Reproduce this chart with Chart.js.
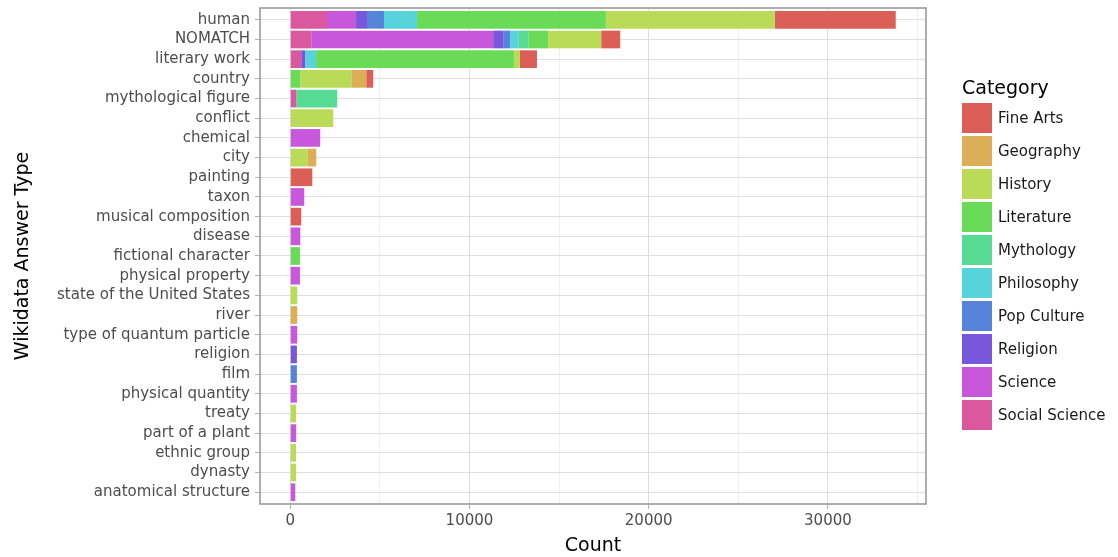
<!DOCTYPE html>
<html>
<head>
<meta charset="utf-8">
<script src="https://cdn.jsdelivr.net/npm/chart.js@4/dist/chart.umd.min.js"></script>
<style>
  html, body { margin: 0; padding: 0; background: #ffffff; }
  #wrap { width: 1118px; height: 557px; position: relative; }
</style>
</head>
<body>
<div id="wrap"><canvas id="c" width="1118" height="557"></canvas></div>
<script>
// ---- Data ----
const categories = [
  "human", "NOMATCH", "literary work", "country", "mythological figure",
  "conflict", "chemical", "city", "painting", "taxon",
  "musical composition", "disease", "fictional character", "physical property",
  "state of the United States", "river", "type of quantum particle", "religion",
  "film", "physical quantity", "treaty", "part of a plant", "ethnic group",
  "dynasty", "anatomical structure"
];

// series values, one per category (0 = no segment)
const socialScience = [2050, 1170, 610, 0, 335, 0, 0, 0, 0, 0, 0, 0, 0, 0, 0, 0, 0, 0, 0, 0, 0, 0, 0, 0, 0];
const science       = [1620, 10150, 0, 0, 0, 0, 1670, 0, 0, 780, 0, 560, 0, 540, 0, 0, 390, 0, 0, 370, 0, 330, 0, 0, 280];
const religion      = [610, 560, 220, 0, 0, 0, 0, 0, 0, 0, 0, 0, 0, 0, 0, 0, 0, 370, 0, 0, 0, 0, 0, 0, 0];
const popCulture    = [950, 390, 0, 0, 0, 0, 0, 0, 0, 0, 0, 0, 0, 0, 0, 0, 0, 0, 370, 0, 0, 0, 0, 0, 0];
const philosophy    = [1840, 450, 610, 0, 0, 0, 0, 0, 0, 0, 0, 0, 0, 0, 0, 0, 0, 0, 0, 0, 0, 0, 0, 0, 0];
const mythology     = [0, 560, 0, 0, 2285, 0, 0, 0, 0, 0, 0, 0, 0, 0, 0, 0, 0, 0, 0, 0, 0, 0, 0, 0, 0];
const literature    = [10540, 1115, 11040, 560, 0, 0, 0, 0, 0, 0, 0, 0, 540, 0, 0, 0, 0, 0, 0, 0, 0, 0, 0, 0, 0];
const history       = [9425, 2955, 335, 2845, 0, 2400, 0, 950, 0, 0, 0, 0, 0, 0, 390, 0, 0, 0, 0, 0, 330, 0, 320, 320, 0];
const geography     = [0, 0, 0, 835, 0, 0, 0, 500, 0, 0, 0, 0, 0, 0, 0, 390, 0, 0, 0, 0, 0, 0, 0, 0, 0];
const fineArts      = [6750, 1060, 950, 390, 0, 0, 0, 0, 1230, 0, 610, 0, 0, 0, 0, 0, 0, 0, 0, 0, 0, 0, 0, 0, 0];

const xTicks = [0, 5000, 10000, 15000, 20000, 25000, 30000, 35000];

// ---- Series definitions (stack order left -> right) ----
const series = [
  { name: "Social Science", values: socialScience, color: "#DB579E" },
  { name: "Science",        values: science,       color: "#C957DB" },
  { name: "Religion",       values: religion,      color: "#7957DB" },
  { name: "Pop Culture",    values: popCulture,    color: "#5784DB" },
  { name: "Philosophy",     values: philosophy,    color: "#57D3DB" },
  { name: "Mythology",      values: mythology,     color: "#57DB94" },
  { name: "Literature",     values: literature,    color: "#69DB57" },
  { name: "History",        values: history,       color: "#B9DB57" },
  { name: "Geography",      values: geography,     color: "#DBAE57" },
  { name: "Fine Arts",      values: fineArts,      color: "#DB5F57" }
];

const totals = categories.map((_, i) => series.reduce((s, d) => s + d.values[i], 0));
const maxTotal = Math.max(...totals);
const xMin = -0.05 * maxTotal;
const xMax = 1.05 * maxTotal;
const yMin = -0.6;
const yMax = categories.length - 1 + 0.6;

Chart.defaults.font.family = "'DejaVu Sans', sans-serif";

const datasets = series.map(s => ({
  label: s.name,
  data: s.values.map((v, i) => ({ x: v, y: i })).filter(p => p.x > 0),
  backgroundColor: s.color,
  borderWidth: 0,
  barPercentage: 0.9,
  categoryPercentage: 1.0
}));

const panelBorder = {
  id: 'panelBorder',
  afterDatasetsDraw(chart) {
    const { ctx, chartArea: a } = chart;
    ctx.save();
    ctx.strokeStyle = '#9a9a9a';
    ctx.lineWidth = 1.6;
    ctx.strokeRect(a.left, a.top, a.right - a.left, a.bottom - a.top);
    ctx.restore();
  }
};

const sideLegend = {
  id: 'sideLegend',
  afterDraw(chart) {
    const { ctx } = chart;
    const x0 = 962, titleY = 89, keyTop = 103, step = 33, key = 30;
    ctx.save();
    ctx.fillStyle = '#000000';
    ctx.font = "19px 'DejaVu Sans'";
    ctx.textAlign = 'left';
    ctx.textBaseline = 'middle';
    ctx.fillText('Category', x0, titleY);
    ctx.font = "15px 'DejaVu Sans'";
    const items = chart.data.datasets.slice().reverse();
    items.forEach((d, k) => {
      const y = keyTop + k * step;
      ctx.fillStyle = d.backgroundColor;
      ctx.fillRect(x0, y, key, key);
      ctx.fillStyle = '#1a1a1a';
      ctx.fillText(d.label, x0 + key + 6, y + key / 2 + 1);
    });
    ctx.restore();
  }
};

new Chart(document.getElementById('c'), {
  type: 'bar',
  data: { datasets },
  plugins: [panelBorder, sideLegend],
  options: {
    responsive: false,
    animation: false,
    indexAxis: 'y',
    layout: { padding: { top: 8, right: 192, left: 0, bottom: 0 } },
    plugins: {
      legend: { display: false },
      tooltip: { enabled: false }
    },
    scales: {
      x: {
        type: 'linear',
        stacked: true,
        offset: false,
        min: xMin,
        max: xMax,
        afterBuildTicks(scale) { scale.ticks = xTicks.map(v => ({ value: v })); },
        afterFit(scale) { scale.height = 53; scale.paddingLeft = 0; scale.paddingRight = 0; },
        border: { display: false },
        grid: {
          offset: false,
          color: c => (c.tick && c.tick.value % 10000 === 0) ? '#dedede' : '#efefef',
          lineWidth: 1,
          tickColor: c => (c.tick && c.tick.value % 10000 === 0) ? '#b3b3b3' : 'rgba(0,0,0,0)',
          tickLength: 5
        },
        ticks: {
          autoSkip: false,
          maxRotation: 0,
          padding: 3,
          color: '#4d4d4d',
          font: { size: 15 },
          callback: v => (v % 10000 === 0) ? String(v) : ''
        },
        title: {
          display: true,
          text: 'Count',
          color: '#000000',
          font: { size: 19 },
          padding: { top: 0, bottom: 0 }
        }
      },
      y: {
        type: 'linear',
        stacked: true,
        reverse: true,
        offset: false,
        min: yMin,
        max: yMax,
        afterBuildTicks(scale) { scale.ticks = categories.map((_, i) => ({ value: i })); },
        afterFit(scale) { scale.width = 260; scale.paddingTop = 0; scale.paddingBottom = 0; },
        border: { display: false },
        grid: {
          offset: false,
          color: '#dedede',
          lineWidth: 1,
          tickColor: '#b3b3b3',
          tickLength: 5
        },
        ticks: {
          autoSkip: false,
          padding: 5,
          color: '#4d4d4d',
          font: { size: 15 },
          callback: v => categories[v]
        },
        title: {
          display: true,
          text: 'Wikidata Answer Type',
          color: '#000000',
          font: { size: 19 },
          padding: { top: 12, bottom: 0 }
        }
      }
    }
  }
});
</script>
</body>
</html>
